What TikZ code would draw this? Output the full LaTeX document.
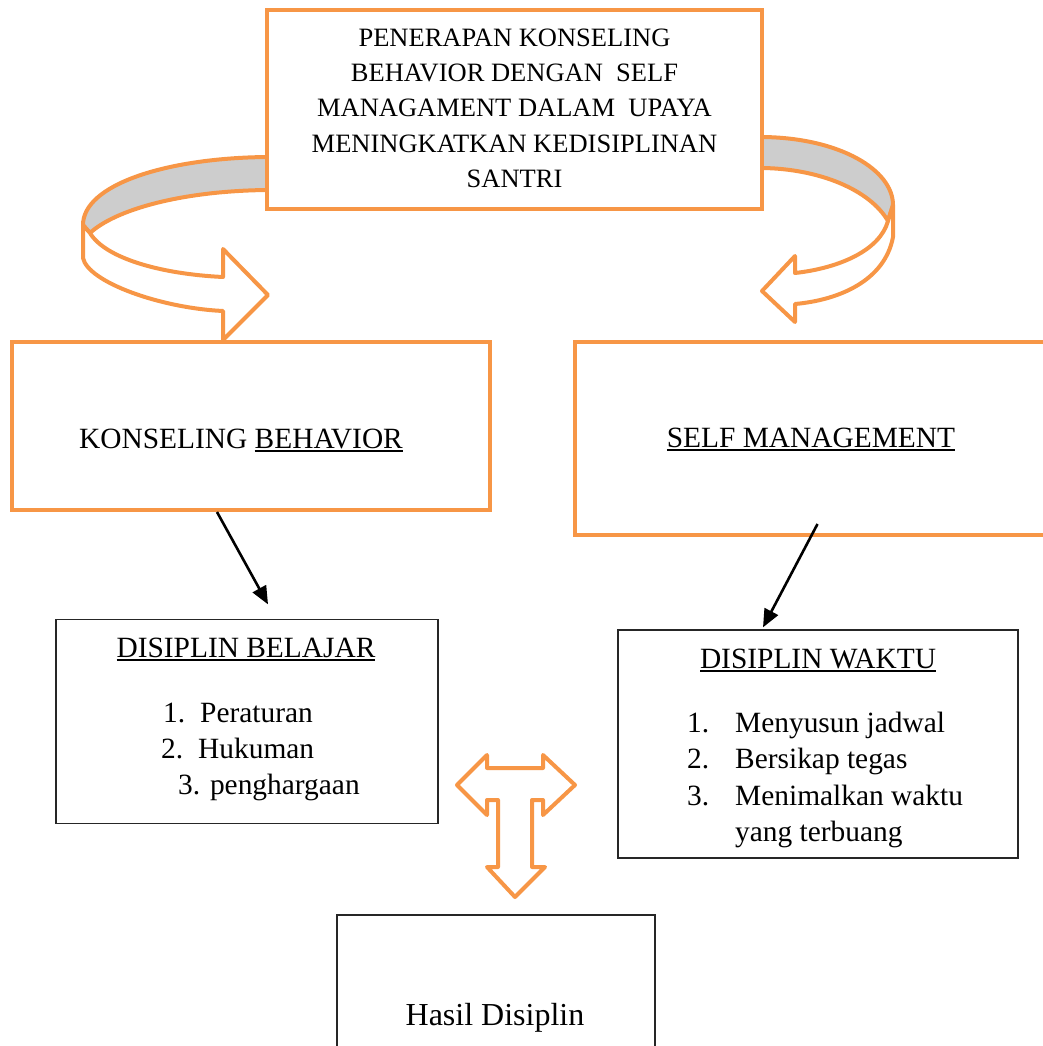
\documentclass[tikz,border=0pt]{standalone}
\usepackage{fontspec}
\setmainfont{Liberation Serif}
\usetikzlibrary{arrows.meta}
\definecolor{orng}{HTML}{F79646}
\definecolor{bandgray}{HTML}{CDCDCD}
\newcommand\myul[1]{\setbox0\hbox{#1}\rlap{\rule[-3.6pt]{\wd0}{1.8pt}}\box0}
\tikzset{
  obox/.style={draw=orng, line width=4pt, fill=white, inner sep=0pt},
  kbox/.style={draw=black!85, line width=1.3pt, fill=white, inner sep=0pt},
  ttop/.style={anchor=base, inner sep=0pt, font=\fontsize{26.5}{35}\selectfont},
  tmid/.style={anchor=base, inner sep=0pt, font=\fontsize{29.4}{36}\selectfont},
  titem/.style={anchor=base west, inner sep=0pt, font=\fontsize{29.4}{36}\selectfont},
  bandline/.style={draw=orng, line width=4pt, line join=round},
  blkarrow/.style={draw=black, line width=2.6pt, -{Triangle[length=18pt,width=15pt]}},
}
\begin{document}
\begin{tikzpicture}[x=1pt,y=-1pt]
\useasboundingbox (0,0) rectangle (1043,1046);
% left curved arrow
\path[bandline, fill=bandgray] (275,157) -- (267,157) .. controls (165,158) and (83,185) .. (83,225)
  -- (90,233) .. controls (115,210) and (180,191) .. (267,190) -- (275,190) -- cycle;
\path[bandline, fill=white] (83,225) -- (83,258) .. controls (88,282) and (160,308) .. (223,311)
  -- (223,340) -- (268,295) -- (223,249) -- (223,277)
  .. controls (160,274) and (105,258) .. (90,233) -- cycle;
% right curved arrow
\path[bandline, fill=bandgray] (755,137) -- (763,137) .. controls (840,138) and (893,170) .. (893,205)
  -- (888,221) .. controls (870,190) and (820,169) .. (763,168) -- (755,168) -- cycle;
\path[bandline, fill=white] (893,205) -- (893,237) .. controls (885,280) and (840,300) .. (795,304)
  -- (795,322) -- (762,291) -- (795,256) -- (795,273)
  .. controls (840,268) and (880,250) .. (888,221) -- cycle;
% boxes
\node[obox, minimum width=495pt, minimum height=199pt] (top) at (514.5,109.5) {};
\node[obox, minimum width=478pt, minimum height=168pt] (kb) at (251,426) {};
\node[obox, minimum width=485pt, minimum height=193pt] (sm) at (817.5,438.5) {};
\node[kbox, minimum width=382pt, minimum height=204pt] (db) at (247,721.5) {};
\node[kbox, minimum width=400pt, minimum height=228pt] (dw) at (818,744) {};
\node[kbox, minimum width=318pt, minimum height=146pt] (hd) at (496,988) {};
% top text
\node[ttop] (t1) at (514.5,47) {PENERAPAN KONSELING};
\node[ttop] (t2) at (514.5,82) {BEHAVIOR DENGAN~ SELF};
\node[ttop] (t3) at (514.5,117) {MANAGAMENT DALAM~ UPAYA};
\node[ttop] (t4) at (514.5,152) {MENINGKATKAN KEDISIPLINAN};
\node[ttop] (t5) at (514.5,187) {SANTRI};
% side boxes text
\node[tmid] (kbt) at (241,448) {KONSELING \myul{BEHAVIOR}};
\node[tmid] (smt) at (811,447) {\myul{SELF MANAGEMENT}};
% disiplin belajar
\node[tmid] (dbt) at (246,657) {\myul{DISIPLIN BELAJAR}};
\node[titem] (db1) at (163,722) {\makebox[37pt][l]{1.}Peraturan};
\node[titem] (db2) at (161,758.5) {\makebox[37pt][l]{2.}Hukuman};
\node[titem] (db3) at (178,794.5) {3. penghargaan};
% disiplin waktu
\node[tmid] (dwt) at (818,668) {\myul{DISIPLIN WAKTU}};
\node[titem] (dw1) at (687,732) {\makebox[48pt][l]{1.}Menyusun jadwal};
\node[titem] (dw2) at (687,768.5) {\makebox[48pt][l]{2.}Bersikap tegas};
\node[titem] (dw3) at (687,805) {\makebox[48pt][l]{3.}Menimalkan waktu};
\node[titem] (dw4) at (735,841.5) {yang terbuang};
% hasil
\node[anchor=base, inner sep=0pt, font=\fontsize{32}{38}\selectfont] (hdt) at (495,1025) {Hasil Disiplin};
% black arrows
\draw[blkarrow] ([xshift=-34pt]kb.south) -- ([xshift=21pt,yshift=14.5pt]db.north);
\draw[blkarrow] ([yshift=13pt]sm.south) -- ([xshift=-55pt,yshift=2pt]dw.north);
% T arrow
\path[bandline, fill=white] (457,785) -- (487,755) -- (487,768) -- (543,768) -- (543,755) -- (575,785)
  -- (543,815) -- (543,800) -- (532,800) -- (532,867) -- (545,867) -- (515,897) -- (487,867)
  -- (498,867) -- (498,800) -- (487,800) -- (487,815) -- cycle;
\end{tikzpicture}
\end{document}
